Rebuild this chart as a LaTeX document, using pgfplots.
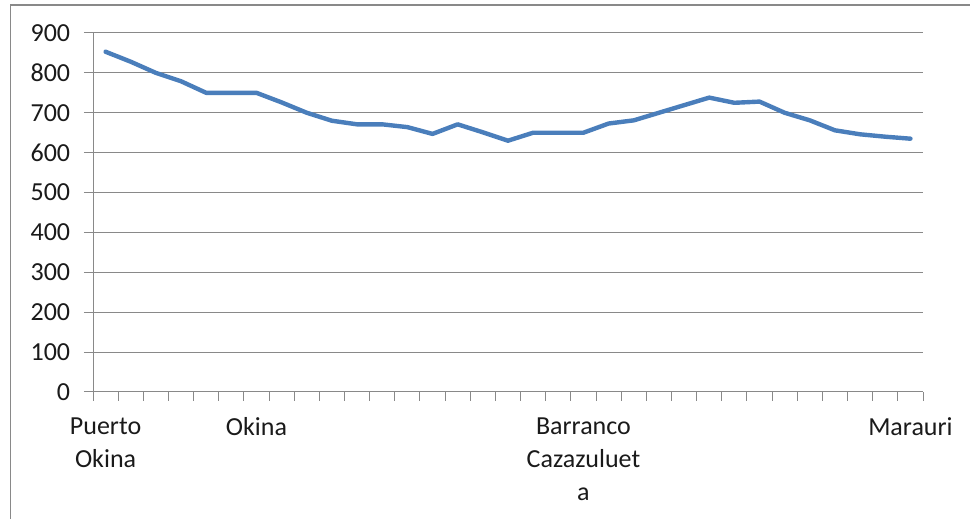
\documentclass[border=0pt]{standalone}
\usepackage{fontspec}
\setmainfont{Carlito}
\usepackage{pgfplots}
\pgfplotsset{compat=1.18}
\definecolor{linecol}{HTML}{4A7EBB}
\definecolor{gridcol}{HTML}{898989}
\definecolor{txtcol}{HTML}{1A1A1A}
\begin{document}
\fontsize{26bp}{33bp}\selectfont
\begin{tikzpicture}[x=1bp,y=1bp]
\useasboundingbox (0,0) rectangle (970,519);
\draw[gridcol, line width=1.3bp] (10.5,0) -- (10.5,514) -- (970,514);
\begin{axis}[
  at={(93bp,127bp)}, anchor=south west,
  scale only axis, width=830bp, height=359bp,
  xmin=-0.5, xmax=32.5, ymin=0, ymax=900,
  ytick={0,100,...,900},
  ymajorgrids, grid style={gridcol, line width=1bp},
  axis x line*=bottom, axis y line*=left,
  axis line style={gridcol, line width=1bp, -},
  tick style={gridcol, line width=1bp},
  tick align=outside,
  major tick length=9bp,
  xtick={-0.5,0.5,...,32.5},
  xticklabels={},
  extra x ticks={0,6,19,32},
  extra x tick labels={{Puerto\\Okina},{Okina},{Barranco\\Cazazuluet\\a},{Marauri}},
  extra x tick style={major tick length=0bp, grid=none,
     xticklabel style={align=center, anchor=north, yshift=-17bp}},
  ticklabel style={font=\fontsize{26bp}{33bp}\selectfont, text=txtcol},
  yticklabel style={anchor=east, xshift=-5bp},
  /pgf/number format/assume math mode=true,
  clip=false,
]
\addplot[linecol, line width=4.4bp, line join=round, line cap=round] coordinates {
(0,853) (1,828) (2,800) (3,779) (4,750) (5,750) (6,750) (7,726) (8,700) (9,680)
(10,671) (11,671) (12,664) (13,647) (14,671) (15,651) (16,630) (17,650) (18,650)
(19,650) (20,673) (21,681) (22,700) (23,719) (24,738) (25,725) (26,728) (27,700)
(28,681) (29,656) (30,646) (31,640) (32,635)
};
\end{axis}
\end{tikzpicture}
\end{document}
